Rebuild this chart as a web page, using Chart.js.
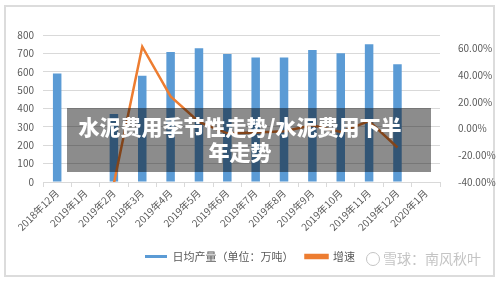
<!DOCTYPE html>
<html>
<head>
<meta charset="utf-8">
<script src="https://cdn.jsdelivr.net/npm/chart.js@4"></script>
<style>
  body { margin: 0; background: #fff; font-family: "Noto Sans CJK SC", sans-serif; }
  #wrap { position: relative; width: 500px; height: 282px; }
  #frame { position: absolute; left: 4px; top: 5px; width: 487px; height: 268px; border: 2px solid #dcdcdc; }
  canvas { position: absolute; left: 0; top: 0; }
  #banner {
    position: absolute; left: 67px; top: 108px; width: 346px; height: 58px;
    padding: 6px 18px 0 0; background: rgba(0, 0, 0, 0.45);
    color: #fff; font-weight: 900; font-size: 21px; line-height: 25px; text-align: center;
  }
  #mark { position: absolute; left: 366px; top: 250px; color: #c4c4c4; font-size: 14px; line-height: 17px; }
  #mark span { display: inline-block; width: 12px; height: 12px; border: 1.5px solid #c4c4c4; border-radius: 50%; vertical-align: -2px; margin-right: 3px; }
</style>
</head>
<body>
<div id="wrap">
  <div id="frame"></div>
  <canvas id="myChart" width="500" height="282"></canvas>
  <div id="banner">水泥费用季节性走势/水泥费用下半<br>年走势</div>
  <div id="mark"><span></span>雪球：南风秋叶</div>
</div>
<script>
const labels = ["2018年12月", "2019年1月", "2019年2月", "2019年3月", "2019年4月", "2019年5月", "2019年6月",
  "2019年7月", "2019年8月", "2019年9月", "2019年10月", "2019年11月", "2019年12月", "2020年1月"];
const dailyOutput = [591, null, 370, 578, 708, 728, 696, 677, 677, 719, 701, 750, 641, null];
const growth = [null, null, -41, 61.3, 24, 5, -3.6, -2.9, -2, 2.4, -2.6, 5.5, -14.2, null];

const gridColor = "#d9d9d9";
const textColor = "#595959";
const font = { family: "'Noto Sans CJK SC', sans-serif", size: 10 };

const data = {
  labels: labels,
  datasets: [
    {
      type: "line",
      label: "增速",
      data: growth,
      yAxisID: "y1",
      borderColor: "#ed7d31",
      backgroundColor: "#ed7d31",
      borderWidth: 2.5,
      pointRadius: 0,
      tension: 0,
      order: 0,
    },
    {
      type: "bar",
      label: "日均产量（单位：万吨）",
      data: dailyOutput,
      yAxisID: "y",
      backgroundColor: "#5b9bd5",
      barPercentage: 0.3,
      categoryPercentage: 1,
      order: 1,
    },
  ],
};

const config = {
  data: data,
  options: {
    responsive: false,
    animation: false,
    layout: { padding: { top: 35, bottom: 10, left: 0, right: 0 } },
    plugins: {
      tooltip: { enabled: false },
      legend: {
        position: "bottom",
        reverse: true,
        labels: { boxWidth: 22, boxHeight: 3, padding: 12, color: textColor, font: { family: font.family, size: 11 } },
      },
    },
    scales: {
      x: {
        grid: { display: true, drawOnChartArea: false, color: gridColor, tickLength: 5, offset: true },
        border: { color: gridColor },
        ticks: { color: textColor, font: font, maxRotation: 45, minRotation: 45, padding: 0, autoSkip: false },
        afterFit: (s) => { s.height = 57; },
      },
      y: {
        position: "left",
        min: 0,
        max: 800,
        ticks: { stepSize: 100, color: textColor, font: font, padding: 9 },
        grid: { color: gridColor, drawTicks: false },
        border: { display: false },
        afterFit: (s) => { s.width = 43; },
      },
      y1: {
        position: "right",
        min: -40,
        max: 70,
        ticks: {
          stepSize: 20,
          color: textColor,
          font: font,
          padding: 10,
          callback: (v) => v.toFixed(2) + "%",
        },
        afterBuildTicks: (s) => { s.ticks = s.ticks.filter((t) => t.value <= 60); },
        grid: { display: false },
        border: { display: false },
        afterFit: (s) => { s.width = 60; },
      },
    },
  },
};
var myChart = new Chart(document.getElementById("myChart"), config);
</script>
</body>
</html>
